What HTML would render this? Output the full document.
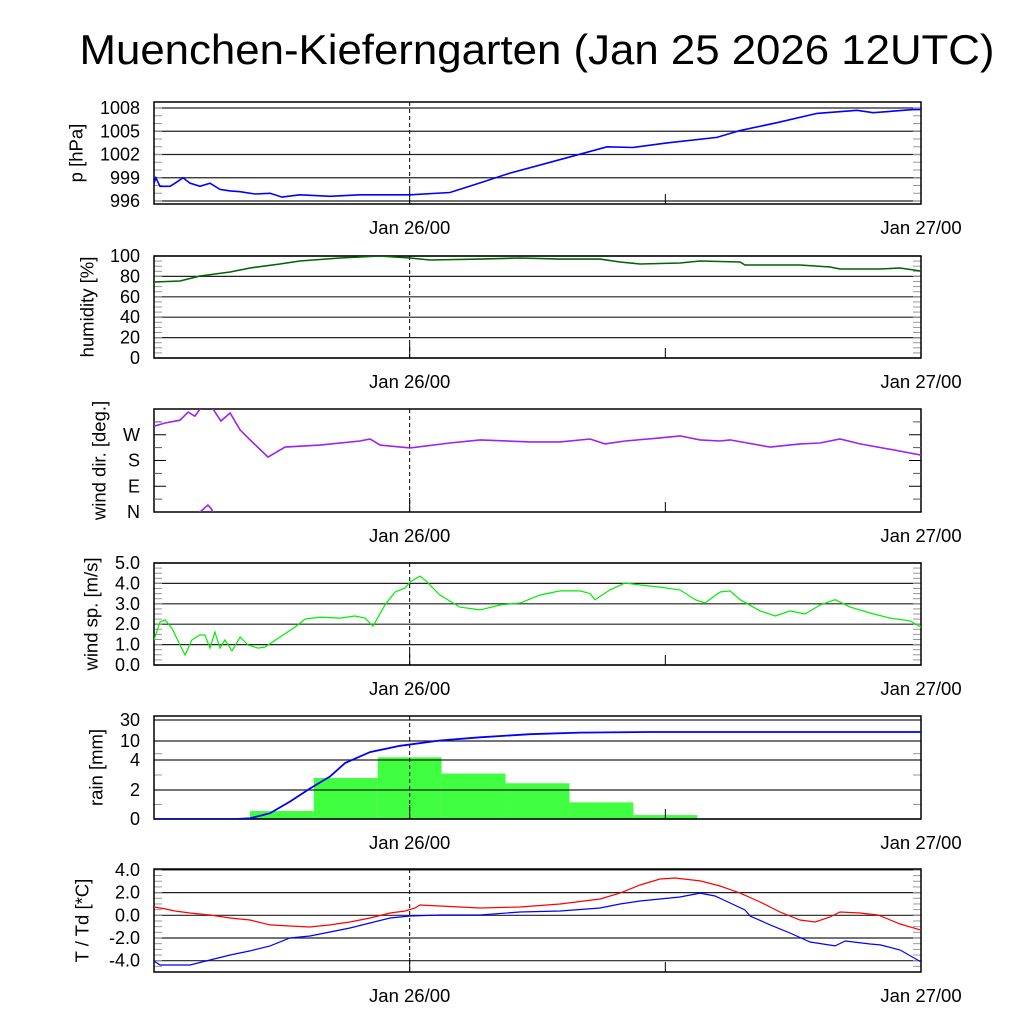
<!DOCTYPE html>
<html><head><meta charset="utf-8"><style>
html,body{margin:0;padding:0;background:#fff;width:1024px;height:1024px;overflow:hidden}
svg{display:block;font-family:"Liberation Sans",sans-serif}
</style></head><body>
<svg id="chart" width="1024" height="1024" viewBox="0 0 1024 1024" xmlns="http://www.w3.org/2000/svg">
<rect x="0" y="0" width="1024" height="1024" fill="#fff"/>
<text x="537" y="64" font-size="42" text-anchor="middle" textLength="915" lengthAdjust="spacingAndGlyphs">Muenchen-Kieferngarten (Jan 25 2026 12UTC)</text>
</svg>
<script>
// time axis: hours since Jan 25 12UTC (0..36)
const xTickLabels = ["Jan 26/00", "Jan 27/00"];
const xTickHours = [12, 36];

const presHours = [0,0.09,0.28,0.75,0.99,1.36,1.69,2.16,2.63,3.1,3.57,4.04,4.74,5.45,6.01,6.85,8.26,9.67,10.61,12.02,13.89,15.16,16.71,18.59,21.26,22.48,24.08,26.42,27.51,29.24,31.12,33.0,33.75,35.63,36];
const presValues = [998.3,999.0,997.9,997.9,998.3,999.0,998.3,997.9,998.3,997.5,997.3,997.2,996.9,997.0,996.5,996.8,996.6,996.8,996.8,996.8,997.1,998.2,999.6,1001.0,1003.0,1002.9,1003.5,1004.2,1005.1,1006.1,1007.3,1007.7,1007.4,1007.8,1007.8];
const presTicks = [996,999,1002,1005,1008];

const humHours = [0,1.22,2.16,3.57,4.51,5.91,6.85,8.73,10.61,12.02,12.95,15.3,17.18,19.06,20.94,21.87,22.81,24.69,25.63,27.51,27.74,30.32,31.73,32.2,34.07,35.01,36];
const humValues = [74.5,75.5,80.4,84.3,88.2,92.2,95.1,98,100,98,96.1,97,98,97,97,94.1,92.2,93.1,95.1,94.1,91.2,91.2,89.2,87.3,87.3,88.2,85.3];
const humTicks = [0,20,40,60,80,100];

const dirHours = [0,0.52,1.22,1.6,1.92,2.16,2.39,2.53,2.68,2.77,3.14,3.57,4.04,4.51,5.35,6.15,7.79,9.67,10.14,10.61,12.02,13.89,15.3,17.65,19.06,20.47,21.17,22.11,23.75,24.69,25.63,26.57,27.04,28.92,30.32,31.26,32.2,33.14,35.02,36];
const dirValues = [300,311,321,349,335,360,375,384,372,360,318,346,287,252,192,227,234,248,255,234,224,241,252,245,245,255,238,248,259,266,252,248,252,227,238,241,255,238,213,199];
const dirTickValues = [0,90,180,270];
const dirTickLabels = ["N","E","S","W"];

const spdHours = [0,.28,.52,.84,1.22,1.46,1.78,2.16,2.39,2.63,2.86,3.1,3.33,3.66,4.04,4.41,4.88,5.21,5.91,6.62,7.09,7.79,8.73,9.43,9.9,10.28,10.84,11.31,11.78,12.02,12.48,12.72,13.42,14.36,15.3,16.24,17.18,18.12,19.06,20.0,20.47,20.7,21.4,22.11,22.81,23.75,24.69,25.4,25.86,26.57,27.04,27.51,28.45,29.15,29.85,30.56,31.26,31.97,32.67,33.61,34.55,35.49,36];
const spdValues = [1.23,2.11,2.21,1.81,0.98,0.49,1.23,1.47,1.47,0.83,1.62,0.83,1.23,0.69,1.37,0.98,0.83,0.88,1.37,1.86,2.25,2.35,2.3,2.4,2.3,1.91,2.94,3.58,3.77,4.07,4.36,4.17,3.43,2.84,2.7,2.94,3.04,3.43,3.63,3.63,3.5,3.2,3.68,4.02,3.92,3.82,3.68,3.2,3.04,3.58,3.63,3.2,2.65,2.4,2.65,2.5,2.94,3.2,2.84,2.55,2.3,2.16,1.86];
const spdTicks = [0,1,2,3,4,5];

const rainBinStart = [4.5,7.5,10.5,13.5,16.5,19.5,22.5];
const rainBinValues = [0.55,2.8,4.85,3.1,2.45,1.15,0.27];
const rainCumHours = [0,3.8,4.51,5.45,6.38,7.32,8.26,8.97,10.14,11.55,13.42,15.3,17.65,20.0,23.28,36];
const rainCumValues = [0,0,0.05,0.4,1.2,2.1,2.9,3.8,6.5,8.5,10.5,13.5,16.5,18,18.6,18.6];
const rainTicks = [0,2,4,10,30];

const tHours = [0,.52,.99,1.69,2.63,3.57,4.51,5.45,6.38,7.32,8.26,9.2,10.14,11.08,11.78,12.25,12.48,13.42,15.3,17.18,19.06,20.94,21.87,22.81,23.75,24.45,25.63,26.57,27.51,28.45,29.38,30.32,31.03,31.73,32.2,33.14,33.98,35.02,36];
const tValues = [.73,.56,.38,.2,.03,-.24,-.41,-.85,-.94,-1.03,-.85,-.59,-.24,.2,.38,.64,.91,.82,.64,.73,1.0,1.44,1.96,2.67,3.2,3.29,3.03,2.58,1.96,1.17,.29,-.41,-.59,-.15,.29,.2,.03,-.77,-1.3];
const tdHours = [0,.28,1.69,2.63,3.57,4.51,5.45,6.38,7.32,8.26,9.2,10.14,11.08,12.02,13.42,15.3,17.18,19.06,20.94,21.87,22.81,24.69,25.63,26.33,27.04,27.74,27.98,28.92,29.85,30.79,31.97,32.44,33.61,34.08,35.02,36];
const tdValues = [-4.03,-4.38,-4.38,-3.94,-3.5,-3.14,-2.7,-2.0,-1.82,-1.47,-1.12,-.68,-.24,-.06,.03,.03,.29,.38,.64,1.0,1.26,1.61,1.96,1.7,1.08,.47,-.06,-.85,-1.56,-2.35,-2.7,-2.26,-2.53,-2.61,-3.06,-4.11];
const tTicks = [-4,-2,0,2,4];

const NS = "http://www.w3.org/2000/svg";
const svg = document.getElementById("chart");
const X0 = 154, X1 = 921, HSPAN = 36;
function xs(h){ return X0 + h * (X1 - X0) / HSPAN; }
function mk(tag, attrs, parent){
  const e = document.createElementNS(NS, tag);
  for (const k in attrs) e.setAttribute(k, attrs[k]);
  (parent || svg).appendChild(e);
  return e;
}
// v0 maps to pixel p0, v1 maps to pixel p1
function linScale(v0, v1, p0, p1){ return v => p0 + (v - v0) / (v1 - v0) * (p1 - p0); }
function pwScale(vals, pxs){
  return v => {
    if (v <= vals[0]) return pxs[0];
    for (let i = 1; i < vals.length; i++) if (v <= vals[i]) return pxs[i-1] + (v - vals[i-1]) / (vals[i] - vals[i-1]) * (pxs[i] - pxs[i-1]);
    const n = vals.length - 1;
    return pxs[n] + (v - vals[n]) / (vals[n] - vals[n-1]) * (pxs[n] - pxs[n-1]);
  };
}

let clipId = 0;
function panel(name, top, bot, title, titleX, ys, gridVals, labels, minorVals){
  const g = mk("g", {});
  
  
  gridVals.forEach((v, i) => {
    const y = ys(v);
    const gl = mk("line", {x1: X0, x2: X1, y1: y, y2: y, stroke: "#222", "stroke-width": 1.2}, g);
    
    
    const t = mk("text", {x: 140, y: y + 6, "font-size": 18, "text-anchor": "end"}, g);
    t.textContent = labels[i];
    
    
  });
  minorVals.forEach(v => {
    const y = ys(v);
    mk("line", {x1: X0, x2: X0 + 8, y1: y, y2: y, stroke: "#999", "stroke-width": 1}, g);
    mk("line", {x1: X1 - 8, x2: X1, y1: y, y2: y, stroke: "#999", "stroke-width": 1}, g);
  });
  const dl = mk("line", {x1: xs(12), x2: xs(12), y1: top, y2: bot, stroke: "#000", "stroke-width": 1, "stroke-dasharray": "4,3"}, g);
  
  
  mk("line", {x1: xs(12), x2: xs(12), y1: bot - 14, y2: bot, stroke: "#000", "stroke-width": 1}, g);
  mk("line", {x1: xs(24), x2: xs(24), y1: bot - 10, y2: bot, stroke: "#000", "stroke-width": 1}, g);
  const fr = mk("rect", {x: X0, y: top, width: X1 - X0, height: bot - top, fill: "none", stroke: "#000", "stroke-width": 1.5}, g);
  
  
  xTickHours.forEach((h, i) => {
    const t = mk("text", {x: xs(h), y: bot + 30, "font-size": 18.5, "text-anchor": "middle"}, g);
    t.textContent = xTickLabels[i];
    
    
  });
  const yt = mk("text", {x: titleX, y: (top + bot) / 2, "font-size": 18.5, "text-anchor": "middle", "dominant-baseline": "central", transform: `rotate(-90 ${titleX} ${(top + bot) / 2})`}, g);
  yt.textContent = title;
  
  
  const cid = "clip" + (clipId++);
  const cp = mk("clipPath", {id: cid}, g);
  mk("rect", {x: X0, y: top, width: X1 - X0, height: bot - top}, cp);
  return {g, cid};
}
function line(p, hours, vals, ys, color, name, w){
  let d = "";
  hours.forEach((h, i) => { d += (i ? "L" : "M") + xs(h).toFixed(1) + " " + ys(vals[i]).toFixed(1); });
  const e = mk("path", {d, fill: "none", stroke: color, "stroke-width": w || 1.6, "clip-path": `url(#${p.cid})`}, p.g);
  
  
  return e;
}

// Pressure
{
  const ys = linScale(996, 1008, 201, 108);
  const mins = []; for (let v = 996; v <= 1008; v++) mins.push(v);
  const p = panel("pressure", 102, 204, "p [hPa]", 76, ys, presTicks, presTicks.map(String), mins);
  line(p, presHours, presValues, ys, "#0000ff", "pressure-line");
}
// Humidity
{
  const ys = linScale(0, 100, 358, 256);
  const mins = []; for (let v = 0; v <= 100; v += 5) mins.push(v);
  const p = panel("humidity", 256, 358, "humidity [%]", 87, ys, humTicks, humTicks.map(String), mins);
  line(p, humHours, humValues, ys, "#006400", "humidity-line");
}
// Wind direction
{
  const ys = linScale(0, 360, 512, 409);
  const p = panel("wind-direction", 409, 512, "wind dir. [deg.]", 99, ys, [], [], []);
  dirTickValues.forEach((v, i) => {
    const y = ys(v);
    mk("line", {x1: X0, x2: X0 + 12, y1: y, y2: y, stroke: "#000"}, p.g);
    mk("line", {x1: X1 - 12, x2: X1, y1: y, y2: y, stroke: "#000"}, p.g);
    const t = mk("text", {x: 140, y: y + 6, "font-size": 18, "text-anchor": "end"}, p.g);
    t.textContent = dirTickLabels[i];
    
    
  });
  [45,135,225,315].forEach(v => {
    const y = ys(v);
    mk("line", {x1: X0, x2: X0 + 8, y1: y, y2: y, stroke: "#555"}, p.g);
    mk("line", {x1: X1 - 8, x2: X1, y1: y, y2: y, stroke: "#555"}, p.g);
  });
  line(p, dirHours, dirValues, ys, "#a020f0", "wind-direction-line");
  line(p, dirHours, dirValues.map(v => v - 360), ys, "#a020f0", "wind-direction-wrap-line");
}
// Wind speed
{
  const ys = linScale(0, 5, 665, 563);
  const mins = []; for (let v = 0; v <= 5.001; v += 0.25) mins.push(v);
  const p = panel("wind-speed", 563, 665, "wind sp. [m/s]", 91, ys, spdTicks, spdTicks.map(v => v.toFixed(1)), mins);
  line(p, spdHours, spdValues, ys, "#00ee00", "wind-speed-line", 1.2);
}
// Rain
{
  const ys = pwScale(rainTicks, [819, 790, 760, 741, 720]);
  const p = panel("rain", 716, 819, "rain [mm]", 96, ys, rainTicks, rainTicks.map(String), [1, 3, 6]);
  rainBinStart.forEach((h, i) => {
    const y = ys(rainBinValues[i]);
    const r = mk("rect", {x: xs(h), y, width: xs(h + 3) - xs(h), height: 819 - y, fill: "#40ff40"}, p.g);
    
    
    p.g.insertBefore(r, p.g.firstChild);
  });
  line(p, rainCumHours, rainCumValues, ys, "#0000ff", "rain-cumulative-line", 1.8);
}
// Temperature
{
  const ys = linScale(0, 2, 915.3, 892.6);
  const mins = []; for (let v = -5; v <= 4.001; v += 0.5) mins.push(v);
  const p = panel("temperature", 869, 972, "T / Td [*C]", 82, ys, tTicks, tTicks.map(v => v.toFixed(1)), mins);
  line(p, tHours, tValues, ys, "#ff0000", "temperature-line", 1.2);
  line(p, tdHours, tdValues, ys, "#0000ff", "dewpoint-line", 1.2);
}
</script>
</body></html>
